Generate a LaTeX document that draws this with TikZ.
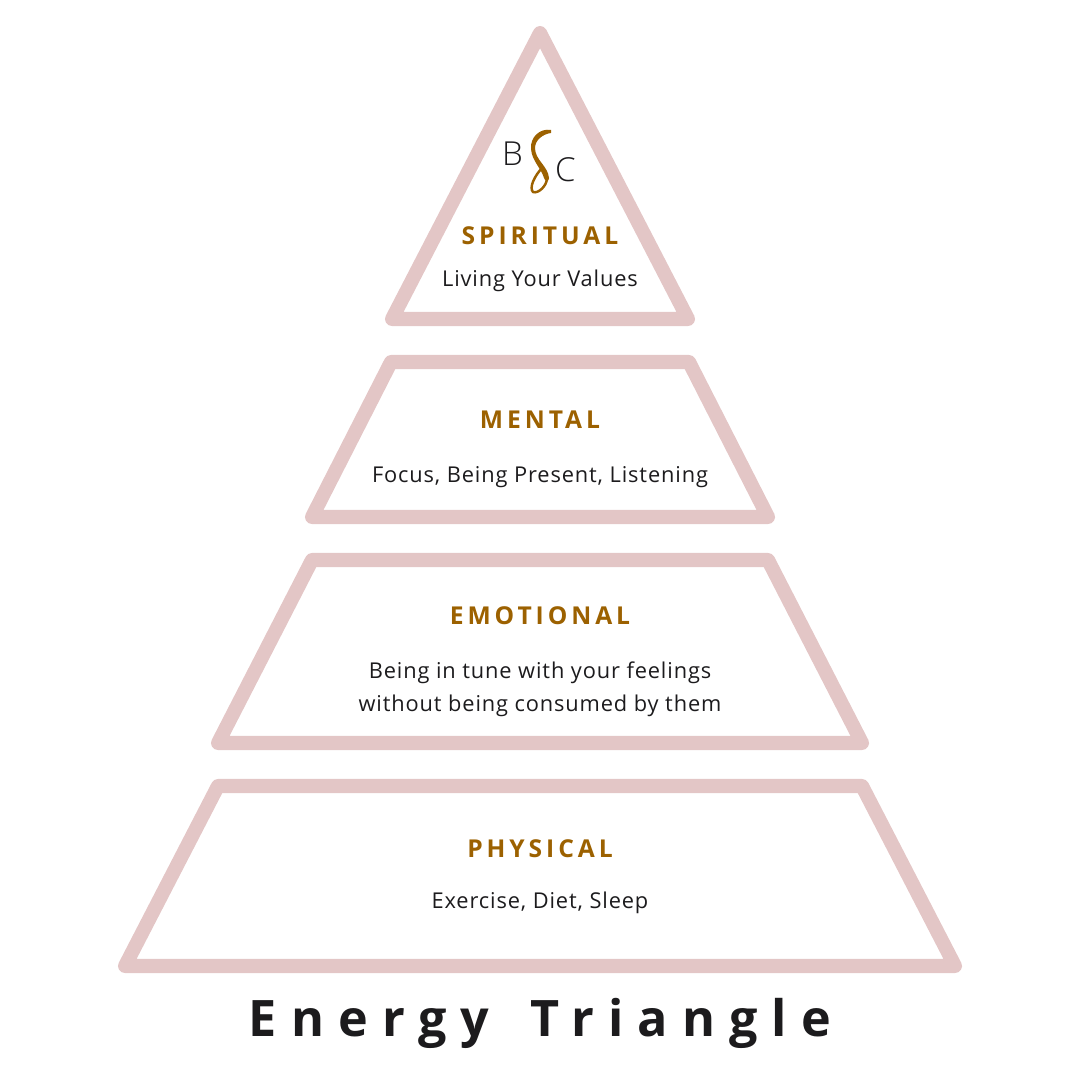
\documentclass[tikz,border=0pt]{standalone}
\usepackage{fontspec}
\setmainfont{Open Sans}
\usepackage{xcolor}
\definecolor{tierpink}{HTML}{E3C6C6}
\definecolor{headbrown}{HTML}{9C6100}
\definecolor{bodyblack}{HTML}{1C1B1D}
\newfontfamily\headfont[LetterSpace=16]{Open Sans}
\newfontfamily\bodyfont[LetterSpace=4]{Open Sans}
\newfontfamily\titlefont[LetterSpace=28]{Open Sans}
\newfontfamily\logofont{Open Sans Light}

\begin{document}
\begin{tikzpicture}[x=0.01cm, y=-0.01cm,
  tier/.style={draw=tierpink, line width=4pt, line join=round},
  head/.style={inner sep=0pt, text=headbrown, font=\headfont\bfseries\fontsize{7}{8}\selectfont},
  body/.style={inner sep=0pt, text=bodyblack, align=center, font=\bodyfont\fontsize{6.2}{9.4}\selectfont},
  logo/.style={inner sep=0pt, text=bodyblack, font=\logofont\fontsize{9.4}{11}\selectfont}]
\useasboundingbox (0,0) rectangle (1080,1080);

% Spiritual
\coordinate (SA) at (540,33);
\coordinate (SL) at (392,319);
\coordinate (SR) at (688,319);
\draw[tier] (SA) -- (SR) -- (SL) -- cycle;
\node[logo] (B) at (512.5,154) {B};
\node[logo] (C) at (565.5,170) {C};
\fill[headbrown]
  (551,130) .. controls (540,128) and (530,137) .. (531,149)
  .. controls (532,161) and (541,168) .. (544,178)
  .. controls (545,182) and (549,182) .. (549,178)
  .. controls (548,166) and (535,160) .. (535,148)
  .. controls (535,140) and (543,134) .. (551,133) -- cycle;
\draw[headbrown, line width=0.7pt, line cap=round]
  (547,178) .. controls (547,186) and (538,194) .. (533,192)
  .. controls (529,188) and (534,176) .. (543,167);
\node[head] (spiritual) at (540,236) {SPIRITUAL};
\node[body] (values) at (540,281) {Living Your Values};

% Mental
\coordinate (ML1) at (391,362);
\coordinate (MR1) at (689,362);
\coordinate (MR2) at (768,517);
\coordinate (ML2) at (312,517);
\draw[tier] (ML1) -- (MR1) -- (MR2) -- (ML2) -- cycle;
\node[head] (mental) at (540,420) {MENTAL};
\node[body] (focus) at (540,477) {Focus, Being Present, Listening};

% Emotional
\coordinate (EL1) at (312,560);
\coordinate (ER1) at (768,560);
\coordinate (ER2) at (862,743);
\coordinate (EL2) at (218,743);
\draw[tier] (EL1) -- (ER1) -- (ER2) -- (EL2) -- cycle;
\node[head] (emotional) at (540,616) {EMOTIONAL};
\node[body] (tune) at (540,689) {Being in tune with your feelings\\without being consumed by them};

% Physical
\coordinate (PL1) at (218,786);
\coordinate (PR1) at (862,786);
\coordinate (PR2) at (955,966);
\coordinate (PL2) at (125,966);
\draw[tier] (PL1) -- (PR1) -- (PR2) -- (PL2) -- cycle;
\node[head] (physical) at (540,849) {PHYSICAL};
\node[body] (exercise) at (540,903) {Exercise, Diet, Sleep};

% Title
\node[inner sep=0pt, text=bodyblack, font=\titlefont\bfseries\fontsize{14.3}{16}\selectfont] (title) at (540,1023) {Energy\hspace{4pt} Triangle};
\end{tikzpicture}
\end{document}
